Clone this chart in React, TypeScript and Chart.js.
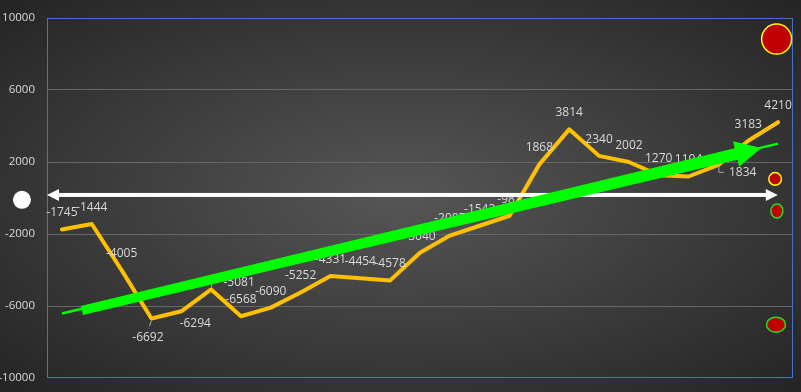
import React, { useEffect, useRef } from "react";
import { Chart, registerables } from "chart.js";

Chart.register(...registerables);

// ---- data ----
const periods = [1, 2, 3, 4, 5, 6, 7, 8, 9, 10, 11, 12, 13, 14, 15, 16, 17, 18, 19, 20, 21, 22, 23, 24, 25];
const netValues = [-1745, -1444, -4005, -6692, -6294, -5081, -6568, -6090, -5252, -4331, -4454, -4578, -3040, -2087, -1542, -987, 1868, 3814, 2340, 2002, 1270, 1194, 1834, 3183, 4210];
const trendPeriods = [1, 25];
const trendValues = [-6420, 3020];
const yTickValues = [10000, 6000, 2000, -2000, -6000, -10000];
// annotation shapes (data coordinates: period, value)
const upArrowFrom = [1.67, -6250];
const upArrowTo = [24.44, 2780];
const baselineFrom = [0.5, 170];
const baselineTo = [24.99, 170];
const originDot = [-0.34, -100];
const markerPeriods = [24.95, 24.9, 24.96, 24.93];
const markerValues = [8830, 1060, -720, -7040];

const LABEL_COLOR = "#d9d9d9";
const FONT = '"Open Sans", "DejaVu Sans", sans-serif';

// label placement tweaks (pixels), keyed by point index
const labelTweaks: Record<number, { dx: number; dy: number; leader?: number[][] }> = {
  3: { dx: -3.5, dy: 19, leader: [[0, 2], [-2, 8]] },
  4: { dx: 14, dy: 12 },
  5: { dx: 28, dy: -7, leader: [[0.5, -2], [0.5, -7]] },
  22: { dx: 24.3, dy: 7.7, leader: [[0.5, 1.7], [0.5, 7.3], [5.5, 7.3]] },
};

const decorPlugin = {
  id: "decor",
  beforeDraw(chart: any) {
    const { ctx, width, height } = chart;
    ctx.save();
    ctx.translate(width / 2, height / 2);
    ctx.scale(width / 2, height / 2);
    const g = ctx.createRadialGradient(0, 0, 0, 0, 0, 1.414);
    g.addColorStop(0, "rgb(86,86,86)");
    g.addColorStop(1, "rgb(36,36,36)");
    ctx.fillStyle = g;
    ctx.fillRect(-1, -1, 2, 2);
    ctx.restore();
  },
  beforeDatasetsDraw(chart: any) {
    const { ctx, chartArea: a } = chart;
    ctx.save();
    ctx.strokeStyle = "#4472c4";
    ctx.lineWidth = 1;
    ctx.strokeRect(Math.round(a.left) + 0.5, Math.round(a.top) + 0.5, Math.round(a.right - a.left) - 1, Math.round(a.bottom - a.top) - 1);
    ctx.restore();
  },
  afterDatasetsDraw(chart: any) {
    const { ctx } = chart;
    const xs = chart.scales.x;
    const ys = chart.scales.y;
    const px = (p: number[]) => [xs.getPixelForValue(p[0]), ys.getPixelForValue(p[1])];

    // data labels
    ctx.save();
    ctx.font = "12px " + FONT;
    ctx.fillStyle = LABEL_COLOR;
    ctx.textAlign = "center";
    ctx.textBaseline = "middle";
    const meta = chart.getDatasetMeta(0);
    meta.data.forEach((pt: any, i: number) => {
      const t = labelTweaks[i] || { dx: 0, dy: -16.5 };
      if (t.leader) {
        ctx.save();
        ctx.strokeStyle = "#a6a6a6";
        ctx.lineWidth = 1;
        ctx.beginPath();
        t.leader.forEach((q, k) => {
          const lx = pt.x + q[0];
          const ly = pt.y + q[1];
          if (k === 0) ctx.moveTo(lx, ly);
          else ctx.lineTo(lx, ly);
        });
        ctx.stroke();
        ctx.restore();
      }
      ctx.fillText(String(netValues[i]), pt.x + t.dx, pt.y + t.dy);
    });
    ctx.restore();

    // white double-headed arrow
    {
      const [x0, y0] = px(baselineFrom);
      const [x1] = px(baselineTo);
      const head = 12;
      const hw = 6;
      ctx.save();
      ctx.fillStyle = "#ffffff";
      ctx.fillRect(x0 + head - 1, y0 - 2, x1 - x0 - 2 * head + 2, 4);
      ctx.beginPath();
      ctx.moveTo(x0, y0);
      ctx.lineTo(x0 + head, y0 - hw);
      ctx.lineTo(x0 + head, y0 + hw);
      ctx.closePath();
      ctx.fill();
      ctx.beginPath();
      ctx.moveTo(x1, y0);
      ctx.lineTo(x1 - head, y0 - hw);
      ctx.lineTo(x1 - head, y0 + hw);
      ctx.closePath();
      ctx.fill();
      ctx.restore();
    }

    // green trend arrow
    {
      const [tx, ty] = px(upArrowFrom);
      const [hx, hy] = px(upArrowTo);
      const len = Math.hypot(hx - tx, hy - ty);
      const ux = (hx - tx) / len;
      const uy = (hy - ty) / len;
      const nx = -uy;
      const ny = ux;
      const headLen = 26;
      const bx = hx - ux * headLen;
      const by = hy - uy * headLen;
      const tailW = 4.5;
      const neckW = 6;
      const headW = 13;
      ctx.save();
      ctx.fillStyle = "#00ff00";
      ctx.beginPath();
      ctx.moveTo(tx + nx * tailW, ty + ny * tailW);
      ctx.lineTo(bx + nx * neckW, by + ny * neckW);
      ctx.lineTo(bx + nx * headW, by + ny * headW);
      ctx.lineTo(hx, hy);
      ctx.lineTo(bx - nx * headW, by - ny * headW);
      ctx.lineTo(bx - nx * neckW, by - ny * neckW);
      ctx.lineTo(tx - nx * tailW, ty - ny * tailW);
      ctx.closePath();
      ctx.fill();
      ctx.restore();
    }

    // red markers at the right edge
    const radii = [[15, 15], [6.3, 6.3], [6, 7], [9.5, 7.5]];
    const rims = ["#ffff00", "#ffff00", "#22dd22", "#22dd22"];
    markerPeriods.forEach((p, i) => {
      const [mx, my] = px([p, markerValues[i]]);
      ctx.save();
      ctx.beginPath();
      ctx.ellipse(mx, my, radii[i][0], radii[i][1], 0, 0, Math.PI * 2);
      ctx.fillStyle = "#c00000";
      ctx.fill();
      ctx.lineWidth = 1.5;
      ctx.strokeStyle = rims[i];
      ctx.stroke();
      ctx.restore();
    });

    // white dot left of the axis
    {
      const [dx, dy] = px(originDot);
      ctx.save();
      ctx.beginPath();
      ctx.arc(dx, dy, 9, 0, Math.PI * 2);
      ctx.fillStyle = "#ffffff";
      ctx.fill();
      ctx.restore();
    }
  },
};

export default function App() {
  const ref = useRef<HTMLCanvasElement | null>(null);

  useEffect(() => {
    if (!ref.current) return;
    const chart = new Chart(ref.current, {
      type: "line",
      data: {
        datasets: [
          {
            label: "Net",
            data: periods.map((p, i) => ({ x: p, y: netValues[i] })),
            borderColor: "#ffc000",
            borderWidth: 4,
            borderJoinStyle: "round",
            borderCapStyle: "round",
            pointRadius: 0,
            tension: 0,
          },
          {
            label: "Trend",
            data: trendPeriods.map((p, i) => ({ x: p, y: trendValues[i] })),
            borderColor: "#00ff00",
            borderWidth: 2.5,
            pointRadius: 0,
          },
        ],
      },
      options: {
        animation: false,
        responsive: false,
        events: [],
        layout: { padding: { left: 0, top: 18, right: 8, bottom: 14 } },
        plugins: { legend: { display: false }, tooltip: { enabled: false } },
        scales: {
          x: { type: "linear", min: 0.5, max: 25.5, display: false },
          y: {
            min: -10000,
            max: 10000,
            afterBuildTicks: (s: any) => {
              s.ticks = yTickValues.map((v) => ({ value: v }));
            },
            afterFit: (s: any) => {
              s.width = 47;
              s.paddingTop = 0;
              s.paddingBottom = 0;
            },
            border: { display: false },
            grid: {
              drawTicks: false,
              color: (c: any) => (Math.abs(c.tick?.value) === 10000 ? "rgba(0,0,0,0)" : "#666666"),
              lineWidth: 1,
            },
            ticks: {
              padding: 12,
              color: LABEL_COLOR,
              font: { family: FONT, size: 11.5 },
              callback: (v: any) => String(v),
            },
          },
        },
      },
      plugins: [decorPlugin],
    } as any);
    return () => chart.destroy();
  }, []);

  return (
    <div style={{ position: "absolute", left: 0, top: 0, width: 801, height: 392 }}>
      <canvas ref={ref} width={801} height={392} style={{ display: "block" }} />
    </div>
  );
}
